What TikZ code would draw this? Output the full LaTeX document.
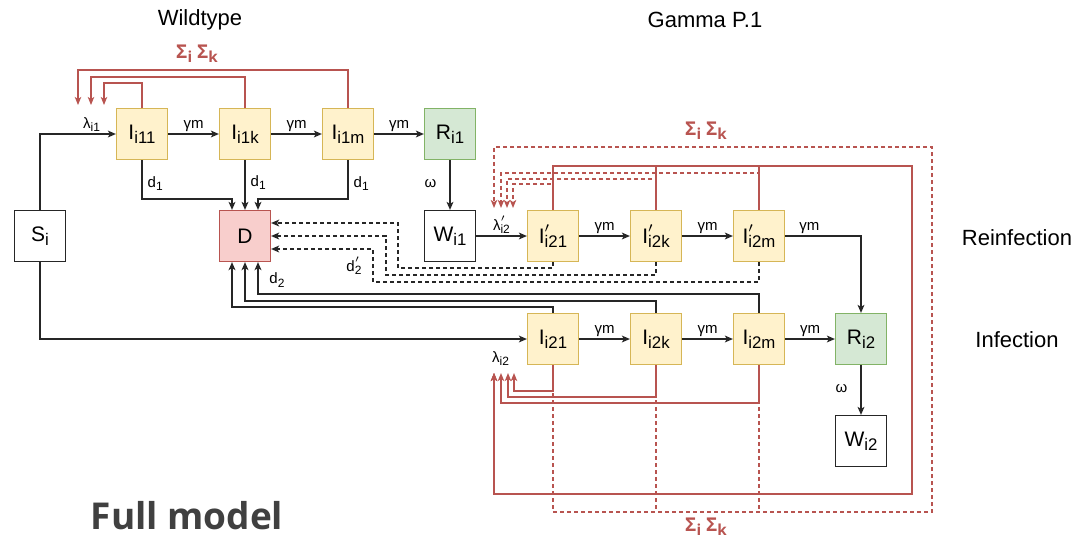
\documentclass[tikz,border=0pt]{standalone}
\usepackage{fontspec}
\setmainfont{Liberation Sans}
\newfontfamily\headfont{Open Sans}
\usepackage{tikz}
\usetikzlibrary{arrows.meta}
\usepackage{xcolor}
\definecolor{yelfill}{HTML}{FFF2CC}
\definecolor{yelline}{HTML}{D6B656}
\definecolor{grnfill}{HTML}{D5E8D4}
\definecolor{grnline}{HTML}{82B366}
\definecolor{redfill}{HTML}{F8CECC}
\definecolor{redline}{HTML}{B85450}
\newcommand{\primetick}{\rlap{\raisebox{0.3ex}{$^{\prime}$}}}
\newcommand{\low}[1]{\raisebox{-0.4ex}{\scalebox{0.8}{#1}}}

\begin{document}
\begin{tikzpicture}[x=0.5pt, y=-0.5pt,
  box/.style={draw=black!85, fill=white, line width=0.6pt, minimum width=25.5pt, minimum height=25.5pt, inner sep=0pt, font=\fontsize{10.5}{12}\selectfont},
  inf/.style={box, draw=yelline, fill=yelfill},
  rec/.style={box, draw=grnline, fill=grnfill},
  dead/.style={box, draw=redline, fill=redfill},
  flow/.style={draw=black!85, line width=0.7pt, -{Stealth[length=4pt, width=3.4pt, inset=1pt]}},
  back/.style={flow, dash pattern=on 2pt off 1.5pt},
  force/.style={draw=redline, line width=0.7pt, -{Stealth[length=4pt, width=3.2pt, inset=1pt]}},
  faint/.style={force, dash pattern=on 2pt off 1.5pt},
  lbl/.style={font=\fontsize{7.5}{9}\selectfont, inner sep=1pt},
  ttl/.style={font=\fontsize{11}{13}\selectfont},
  sig/.style={font=\headfont\bfseries\fontsize{9.5}{11}\selectfont, text=redline}
]
\useasboundingbox (0,0) rectangle (1077,538);

% Headings
\node[ttl] (wt) at (200,20) {Wildtype};
\node[ttl] (gm) at (705,20) {Gamma P.1};
\node[ttl] (reinf) at (1017,238) {Reinfection};
\node[ttl] (infl) at (1017,340) {Infection};
\node[font=\headfont\bfseries\fontsize{18.5}{20}\selectfont, text=black!75] (fm) at (187,516) {Full model};
\node[sig] (s1) at (197,54) {Σ\low{i} Σ\low{k}};
\node[sig] (s2) at (706,131) {Σ\low{i} Σ\low{k}};
\node[sig] (s3) at (706,527) {Σ\low{i} Σ\low{k}};

% Step 1: compartments
\node[box] (S) at (40,236) {S\low{i}};
\node[dead] (D) at (245,236) {D};
\foreach \n/\x/\t in {a1/142/11, a2/245/1k, a3/348/1m} {
  \node[inf] (\n) at (\x,134) {I\low{i\t}};
}
\node[rec] (R1) at (450,134) {R\low{i1}};
\node[box] (W1) at (450,236) {W\low{i1}};
\foreach \n/\x/\t in {b1/553/21, b2/656/2k, b3/759/2m} {
  \node[inf] (\n) at (\x,236) {I\primetick\low{i\t}};
}
\foreach \n/\x/\t in {c1/553/21, c2/656/2k, c3/759/2m} {
  \node[inf] (\n) at (\x,339) {I\low{i\t}};
}
\node[rec] (R2) at (861,339) {R\low{i2}};
\node[box] (W2) at (861,441) {W\low{i2}};

% arrow ends of the forces of infection
\foreach \k/\x in {1/78, 2/91, 3/104} {
  \coordinate (inA\k) at (\x,105);
}
\foreach \k/\x in {1/494, 2/501, 3/507, 4/513} {
  \coordinate (inT\k) at (\x,208);
}
\foreach \k/\x in {1/494, 2/501, 3/508, 4/514} {
  \coordinate (inB\k) at (\x,373);
}
\coordinate (eR) at (912,494);
\coordinate (eD) at (932,147);

% Step 2: progression
\draw[flow] (S.north) |- (a1.west) node[lbl, pos=0.84, above] (l1) {λ\low{i1}};
\draw[flow] (S.south) |- (c1.west) node[lbl, pos=0.973, below=5pt] (l2) {λ\low{i2}};
\draw[flow] (W1) -- (b1) node[lbl, midway, above] (l3) {λ\primetick\low{i2}};
\foreach \p/\q in {a1/a2, a2/a3, a3/R1, b1/b2, b2/b3, c1/c2, c2/c3, c3/R2} {
  \draw[flow] (\p) -- (\q) node[lbl, midway, above] {γm};
}
\draw[flow] (b3.east) -| node[lbl, pos=0.16, above] {γm} (R2.north);
\draw[flow] (R1) -- (W1) node[lbl, pos=0.47, left=5.5pt] {ω};
\draw[flow] (R2) -- (W2) node[lbl, pos=0.47, left=5.5pt] {ω};

% Step 3: deaths
\draw[flow] (a1.south) -- ++(0,39) node[lbl, pos=0.6, right=1.5pt] {d\low{1}} -| ([xshift=-6.5pt]D.north);
\draw[flow] (a2) -- (D) node[lbl, pos=0.45, right=1.5pt] {d\low{1}};
\draw[flow] (a3.south) -- ++(0,39) node[lbl, pos=0.6, right=1.5pt] {d\low{1}} -| ([xshift=6.5pt]D.north);
\draw[back] (b1.south) -- ++(0,6) -- ++(-155,0) |- ([yshift=6.5pt]D.east);
\draw[back] (b2.south) -- ++(0,13) -- ++(-270,0) |- (D.east);
\draw[back] (b3.south) -- ++(0,20) -- ++(-386,0) |- ([yshift=-6.5pt]D.east);
\node[lbl] (dl2) at (354,266) {d\primetick\low{2}};
\draw[flow] (c1.north) -- ++(0,-6) -| ([xshift=-6.5pt]D.south);
\draw[flow] (c2.north) -- ++(0,-12) -| (D.south);
\draw[flow] (c3.north) -- ++(0,-19) -| ([xshift=6.5pt]D.south);
\node[lbl] (d2) at (277,280) {d\low{2}};

% Step 4: forces of infection
\draw[force] (a1.north) -- ++(0,-25) -| (inA3);
\draw[force] (a2.north) -- ++(0,-31) -| (inA2);
\draw[force] (a3.north) -- ++(0,-38) -| (inA1);
\draw[faint] (b1.north) -- ++(0,-26) -| (inT4);
\draw[faint] (b2.north) -- ++(0,-31) -| (inT3);
\draw[faint] (b3.north) -- ++(0,-37) -| (inT2);
\draw[faint] (c1.south) -- ++(0,147) -| (eD) -| (inT1);
\draw[faint, -] (c2.south) -- ++(0,147);
\draw[faint, -] (c3.south) -- ++(0,147);
\foreach \n in {b1,b2,b3} {
  \draw[force] (\n.north) -- ++(0,-44) -| (eR) -| (inB1);
}
\draw[force] (c1.south) -- ++(0,26) -| (inB4);
\draw[force] (c2.south) -- ++(0,32) -| (inB3);
\draw[force] (c3.south) -- ++(0,38) -| (inB2);
\end{tikzpicture}
\end{document}
